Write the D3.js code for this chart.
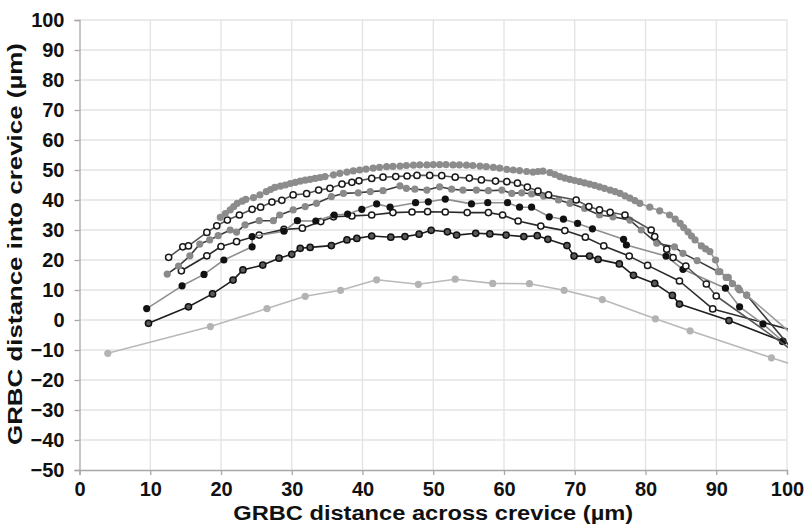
<!DOCTYPE html>
<html>
<head>
<meta charset="utf-8">
<script src="https://cdn.jsdelivr.net/npm/d3@7"></script>
<style>
  html, body { margin: 0; padding: 0; background: #fff; }
  svg { display: block; font-family: "Liberation Sans", Arial, sans-serif; }
</style>
</head>
<body>
<svg id="chart" width="806" height="529"></svg>
<script>
// Axis tick values
const xTicks = [0, 10, 20, 30, 40, 50, 60, 70, 80, 90, 100];
const yTicks = [-50, -40, -30, -20, -10, 0, 10, 20, 30, 40, 50, 60, 70, 80, 90, 100];

// Cell profiles: [distance across crevice, distance into crevice] in µm
const profileA = [ // grey dots, densely sampled
  [19.9,34.2],[20.6,35.5],[21.3,36.7],[21.8,37.8],[22.3,38.9],[23.0,39.6],[23.5,40.2],[24.6,40.8],
  [25.5,41.7],[26.4,42.8],[27.0,43.5],[27.6,44.2],[28.4,44.6],[29.1,45.0],[29.8,45.5],[30.5,45.9],
  [31.2,46.3],[31.9,46.6],[32.6,46.9],[33.3,47.2],[34.0,47.5],[34.7,47.8],[35.9,48.4],[36.8,48.9],
  [37.8,49.3],[38.7,49.7],[39.6,50.0],[40.5,50.3],[41.5,50.6],[42.4,50.9],[43.4,51.1],[44.3,51.2],
  [45.3,51.3],[46.2,51.5],[47.2,51.6],[48.1,51.7],[49.1,51.7],[50.0,51.8],[50.9,51.8],[51.8,51.8],
  [52.8,51.7],[53.7,51.7],[54.7,51.6],[55.6,51.5],[56.6,51.3],[57.5,51.1],[58.5,50.9],[59.4,50.6],
  [60.4,50.2],[61.3,50.0],[62.2,49.8],[63.2,49.5],[64.1,49.3],[64.8,49.5],[65.5,49.6],[66.5,49.1],
  [67.2,48.5],[67.9,47.8],[68.6,47.3],[69.3,46.9],[70.0,46.5],[70.7,46.1],[71.4,45.7],[72.1,45.3],
  [72.8,44.9],[73.5,44.4],[74.2,43.9],[75.0,43.3],[75.7,42.8],[76.4,42.2],[77.1,41.4],[77.8,40.6],
  [78.5,39.8],[79.2,38.9],[80.6,37.6],[82.0,36.4],[83.4,35.0],[84.2,33.6],[84.9,32.2],[85.4,30.8],
  [86.0,29.4],[86.5,28.0],[87.0,26.7],[87.9,24.7],[88.5,23.7],[89.1,22.8],[89.9,20.0],[90.5,16.1],
  [91.4,14.2],[92.3,12.1],[93.3,10.0],[94.3,8.3],[101.5,-6.3]
];
const profileB = [ // open circles, upper
  [12.6,20.9],[14.6,24.4],[15.4,24.7],[18.0,29.2],[19.4,31.4],[20.9,33.3],[22.6,35.0],[24.4,36.9],
  [25.6,37.6],[27.2,39.3],[28.6,39.9],[30.2,41.7],[32.1,42.1],[33.8,43.3],[35.4,43.9],[37.1,45.3],
  [38.5,45.9],[39.5,46.4],[41.3,47.2],[42.9,47.6],[44.7,47.8],[46.3,48.0],[47.7,48.2],[49.5,48.2],
  [51.2,48.1],[53.1,47.6],[55.1,47.3],[56.8,46.7],[58.8,46.3],[60.4,46.1],[61.9,45.6],[63.3,44.3],
  [64.8,43.0],[66.3,41.7],[70.2,40.0],[72.0,37.8],[73.5,36.7],[75.0,35.9],[77.1,35.0],[80.8,30.0],
  [81.3,27.8],[83.0,23.6],[83.9,20.8],[85.7,18.0],[88.6,12.0],[90.0,8.0],[101,-10.5]
];
const profileC = [ // grey dots, dark line
  [12.4,15.3],[14.0,18.0],[15.6,21.4],[17.0,25.3],[18.4,26.7],[19.6,28.1],[21.3,30.0],[22.2,29.3],
  [23.4,31.7],[25.4,33.1],[27.4,33.1],[28.3,35.0],[30.2,36.7],[31.9,37.8],[33.5,38.9],[35.6,41.1],
  [37.3,42.2],[39.4,42.4],[41.1,42.8],[42.9,43.1],[45.3,44.7],[46.2,43.9],[47.4,43.6],[49.1,43.3],
  [50.9,44.4],[52.6,43.6],[54.2,43.3],[56.1,43.3],[57.8,43.1],[59.7,43.3],[61.1,42.2],[62.5,42.4],
  [63.9,42.0],[65.6,41.3],[67.7,40.0],[69.3,38.9],[71.4,37.2],[73.5,35.0],[75.4,34.4],[77.8,33.3],
  [79.4,30.0],[81.6,25.6],[84.1,24.4],[85.3,22.2],[87.3,19.8],[90.3,16.1],[91.7,14.2],[93.1,10.6],
  [94.3,8.3],[101,-10.5]
];
const profileD = [ // black dots, grey line
  [9.5,3.8],[14.5,11.4],[17.6,15.2],[20.4,20.0],[24.4,24.4],[24.4,27.8],[28.9,29.6],[30.8,33.1],
  [33.4,33.0],[36.0,35.0],[37.9,35.3],[39.9,36.9],[42.0,38.7],[43.9,37.6],[47.5,39.1],[49.3,39.4],
  [51.7,40.3],[55.4,38.7],[57.7,39.1],[60.5,39.1],[62.2,37.6],[63.9,37.6],[66.4,34.4],[68.4,33.6],
  [70.4,32.2],[72.5,30.4],[76.9,26.9],[77.3,25.0],[82.9,21.3],[85.3,16.9],[91.3,10.6],[93.3,4.4],
  [96.6,-1.3],[99.4,-7.1]
];
const profileE = [ // open circles, lower
  [14.4,16.4],[18.0,21.4],[20.0,24.5],[22.2,26.1],[25.4,28.3],[28.9,30.2],[31.5,30.6],[34.1,32.8],
  [35.9,34.4],[38.5,34.7],[41.3,35.0],[44.3,35.8],[47.0,36.0],[49.2,36.1],[51.7,36.0],[54.8,35.8],
  [57.8,35.8],[59.8,35.0],[62.0,33.0],[65.2,31.3],[68.6,29.8],[71.5,27.6],[74.1,24.7],[77.7,21.3],
  [80.3,18.2],[84.8,13.0],[89.5,3.7],[101,-3.6]
];
const profileF = [ // dark dots, black line
  [9.75,-1.1],[15.4,4.4],[18.8,8.7],[21.7,13.3],[23.1,16.7],[25.9,18.3],[28.2,20.6],[30.0,21.9],
  [31.2,23.9],[32.6,24.2],[35.6,24.8],[37.8,26.7],[39.2,27.2],[41.3,28.0],[44.0,27.6],[46.0,27.8],
  [48.0,28.6],[49.7,29.9],[52.0,29.4],[53.3,28.3],[56.0,28.9],[58.0,28.7],[60.3,28.3],[62.8,27.8],
  [64.7,28.1],[66.2,26.9],[68.9,24.8],[69.9,21.3],[72.1,21.3],[73.3,20.2],[76.3,18.7],[78.3,14.9],
  [81.3,12.2],[83.8,8.2],[84.8,5.3],[91.8,-0.2],[99.4,-7.1]
];
const profileG = [ // light grey, sparse
  [4.0,-11.1],[18.5,-2.2],[26.5,3.8],[31.9,7.9],[36.9,9.9],[42.0,13.4],[47.9,11.9],[53.1,13.6],
  [58.4,12.2],[63.6,12.1],[68.5,9.9],[73.9,6.8],[81.4,0.4],[86.3,-3.6],[97.8,-12.6],[101.5,-15.4]
];

// Drawing styles, bottom layer first
const series = [
  { data: profileG, line: "#b9b9b9", fill: "#b3b3b3", stroke: "none" },
  { data: profileF, line: "#1e1e1e", fill: "#5a5a5a", stroke: "#111" },
  { data: profileE, line: "#2a2a2a", fill: "#ffffff", stroke: "#1a1a1a" },
  { data: profileD, line: "#8f8f8f", fill: "#111111", stroke: "none" },
  { data: profileC, line: "#3c3c3c", fill: "#8a8a8a", stroke: "none" },
  { data: profileB, line: "#555555", fill: "#ffffff", stroke: "#1a1a1a" },
  { data: profileA, line: "#9a9a9a", fill: "#8c8c8c", stroke: "none" }
];

const svg = d3.select("#chart");
const margin = { left: 79.5, right: 19, top: 20, bottom: 59 };
const W = 806, H = 529;
const x = d3.scaleLinear().domain([0, 100]).range([margin.left, W - margin.right]);
const y = d3.scaleLinear().domain([-50, 100]).range([H - margin.bottom, margin.top]);

// Grid
const grid = svg.append("g");
grid.selectAll("line.h").data(yTicks.filter(d => d > -50)).join("line")
  .attr("x1", x(0)).attr("x2", x(100))
  .attr("y1", d => y(d)).attr("y2", d => y(d))
  .attr("stroke", "#e3e3e3").attr("stroke-width", 1.3);
grid.selectAll("line.v").data(xTicks.filter(d => d > 0)).join("line")
  .attr("y1", y(-50)).attr("y2", y(100))
  .attr("x1", d => x(d)).attr("x2", d => x(d))
  .attr("stroke", "#e3e3e3").attr("stroke-width", 1.3);

// Axes
const xAxis = d3.axisBottom(x).tickValues(xTicks).tickSize(5).tickPadding(5).tickFormat(d3.format("d"));
const yAxis = d3.axisLeft(y).tickValues(yTicks).tickSize(5).tickPadding(10).tickFormat(d3.format("d"));

const gx = svg.append("g").attr("transform", `translate(0,${y(-50)})`).call(xAxis);
const gy = svg.append("g").attr("transform", `translate(${x(0)},0)`).call(yAxis);
[gx, gy].forEach(g => {
  g.select(".domain").attr("stroke", "#a8a8a8").attr("stroke-width", 1.3);
  g.selectAll(".tick line").attr("stroke", "#a8a8a8").attr("stroke-width", 1.3);
  g.selectAll(".tick text")
    .attr("fill", "#111").attr("font-size", 20).attr("font-weight", "bold")
    .attr("font-family", "Liberation Sans, Arial, sans-serif");
});
gx.selectAll(".tick text").attr("dy", "0.82em");

// Axis titles
svg.append("text")
  .attr("x", (x(0) + x(100)) / 2).attr("y", 520)
  .attr("text-anchor", "middle").attr("font-size", 20).attr("font-weight", "bold").attr("fill", "#111")
  .attr("textLength", 400).attr("lengthAdjust", "spacingAndGlyphs")
  .text("GRBC distance across crevice (µm)");
svg.append("text")
  .attr("transform", `translate(22,${(y(-50) + y(100)) / 2 - 1}) rotate(-90)`)
  .attr("text-anchor", "middle").attr("font-size", 21).attr("font-weight", "bold").attr("fill", "#111")
  .attr("textLength", 402).attr("lengthAdjust", "spacingAndGlyphs")
  .text("GRBC distance into crevice (µm)");

// Plot area clip
svg.append("clipPath").attr("id", "plot-clip").append("rect")
  .attr("x", x(0)).attr("y", y(100) - 5)
  .attr("width", x(100) - x(0) + 1).attr("height", y(-50) - y(100) + 5);

const plot = svg.append("g").attr("clip-path", "url(#plot-clip)");
const line = d3.line().x(d => x(d[0])).y(d => y(d[1]));

series.forEach(s => {
  const g = plot.append("g");
  g.append("path").datum(s.data)
    .attr("d", line).attr("fill", "none")
    .attr("stroke", s.line).attr("stroke-width", 1.6).attr("stroke-linejoin", "round");
  g.selectAll("circle").data(s.data).join("circle")
    .attr("cx", d => x(d[0])).attr("cy", d => y(d[1]))
    .attr("r", s.stroke === "none" ? 3.6 : 3.1)
    .attr("fill", s.fill)
    .attr("stroke", s.stroke === "none" ? null : s.stroke)
    .attr("stroke-width", 1.5);
});
</script>
</body>
</html>
